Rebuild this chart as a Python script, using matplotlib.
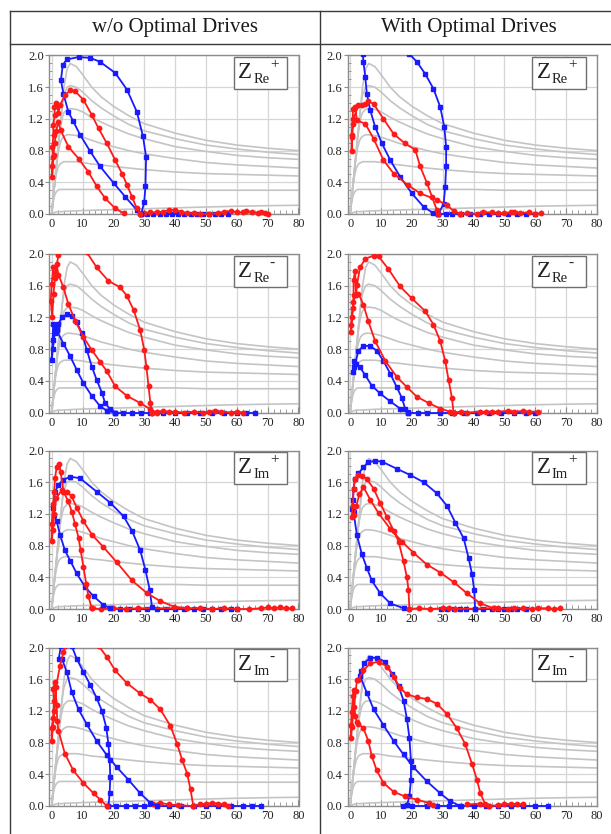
import matplotlib
matplotlib.use("Agg")
import matplotlib.pyplot as plt
from matplotlib.patches import Rectangle
from matplotlib.ticker import MultipleLocator, FormatStrFormatter

plt.rcParams['font.family'] = ['Liberation Serif', 'DejaVu Serif']

# ---------------------------------------------------------------- headers
col_titles = ["w/o Optimal Drives", "With Optimal Drives"]
label_subs = ["Re", "Re", "Im", "Im"]
label_sups = ["+", "-", "+", "-"]

# ---------------------------------------------------------------- DC I-V family (Vds, Ids)
iv_vds = [0, 0.5, 1, 1.5, 2, 2.5, 3, 3.5, 4, 5, 6, 8, 10, 13, 16, 20, 25, 30, 40, 50, 60, 70, 80]
iv_ids_1 = [0, 0.2, 0.4, 0.6, 0.8, 1.0, 1.2, 1.4, 1.6, 1.83, 1.9, 1.86, 1.76, 1.6, 1.48, 1.36, 1.24, 1.14, 1.02, 0.93, 0.87, 0.83, 0.80]
iv_ids_2 = [0, 0.2, 0.4, 0.6, 0.8, 1.0, 1.2, 1.38, 1.5, 1.6, 1.62, 1.6, 1.54, 1.43, 1.34, 1.24, 1.13, 1.05, 0.95, 0.87, 0.82, 0.78, 0.75]
iv_ids_3 = [0, 0.2, 0.4, 0.6, 0.8, 0.98, 1.12, 1.22, 1.28, 1.32, 1.33, 1.32, 1.29, 1.22, 1.16, 1.09, 1.01, 0.95, 0.85, 0.79, 0.74, 0.71, 0.69]
iv_ids_4 = [0, 0.2, 0.4, 0.58, 0.74, 0.85, 0.92, 0.96, 0.98, 1.0, 1.0, 0.99, 0.97, 0.93, 0.89, 0.85, 0.8, 0.76, 0.7, 0.65, 0.62, 0.6, 0.58]
iv_ids_5 = [0, 0.2, 0.38, 0.5, 0.58, 0.62, 0.64, 0.65, 0.66, 0.66, 0.66, 0.66, 0.65, 0.63, 0.62, 0.6, 0.58, 0.56, 0.53, 0.51, 0.5, 0.49, 0.48]
iv_ids_6 = [0, 0.15, 0.24, 0.28, 0.3, 0.31, 0.31, 0.31, 0.31, 0.31, 0.31, 0.31, 0.31, 0.31, 0.31, 0.31, 0.31, 0.31, 0.31, 0.3, 0.3, 0.3, 0.3]
iv_ids_7 = [0, 0.01, 0.02, 0.025, 0.03, 0.03, 0.03, 0.03, 0.032, 0.034, 0.036, 0.04, 0.043, 0.047, 0.05, 0.055, 0.06, 0.066, 0.077, 0.088, 0.098, 0.105, 0.11]
iv_family = [iv_ids_1, iv_ids_2, iv_ids_3, iv_ids_4, iv_ids_5, iv_ids_6, iv_ids_7]

# ---------------------------------------------------------------- dynamic load lines (Vds, Ids)
# ZRe+ without optimal drives
re_p_wo_red = [(23.3, 0.01), (20.6, 0.07), (17.3, 0.20), (14.6, 0.35), (11.9, 0.53), (8.7, 0.70), (5.4, 0.85),
               (2.9, 1.06), (2.1, 1.16), (1.5, 1.05), (1.0, 0.9), (0.6, 0.75), (0.2, 0.47), (0.0, 0.6), (0.4, 0.72),
               (0.2, 0.85), (0.6, 1.0), (0.5, 1.12), (1.0, 1.25), (0.9, 1.35), (1.3, 1.40), (1.7, 1.36), (2.2, 1.28),
               (2.8, 1.38), (4.3, 1.50), (6.0, 1.56), (7.6, 1.55), (10.3, 1.44), (13.0, 1.25), (15.2, 1.08),
               (17.9, 0.89), (20.6, 0.68), (22.8, 0.51), (24.4, 0.37), (26.0, 0.22), (27.6, 0.07), (28.7, 0.0)]
re_p_wo_red_tail = [(28.7, 0.0), (30, 0.01), (32, 0.02), (34, 0.02), (36, 0.03), (38, 0.05), (40, 0.05), (42, 0.03),
                    (44, 0.01), (46, 0.01), (48, 0.0), (51, 0.0), (54, 0.01), (56, 0.03), (58, 0.04), (60, 0.02),
                    (62, 0.02), (63, 0.04), (65, 0.02), (67, 0.01), (68, 0.03), (69, 0.01), (70, 0.0)]
re_p_wo_blue = [(29.0, 0.0), (30.0, 0.15), (30.4, 0.35), (30.6, 0.72), (29.6, 0.98), (27.6, 1.29), (24.4, 1.57),
                (20.6, 1.78), (15.7, 1.92), (12.5, 1.97), (8.7, 1.98), (4.9, 1.95), (3.6, 1.88), (3.0, 1.69),
                (3.8, 1.52), (5.4, 1.29), (7.0, 1.17), (9.2, 1.0), (12.5, 0.79), (15.7, 0.6), (20.1, 0.39),
                (23.8, 0.22), (27.6, 0.05), (29.0, 0.0)]
re_p_wo_blue_tail = [(29, 0.0), (31, 0.0), (33, 0.0), (35, 0.0), (37, 0.0), (39, 0.0), (41, 0.0), (43, 0.0),
                     (45, 0.0), (47, 0.0), (49, 0.0), (51, 0.0), (53, 0.0), (55, 0.0), (57, 0.0)]

# ZRe+ with optimal drives
re_p_w_red = [(35.7, 0.0), (33.5, 0.04), (31.4, 0.11), (28.1, 0.18), (22.7, 0.26), (18.9, 0.36), (14.1, 0.51),
              (10.8, 0.68), (7.6, 0.95), (4.9, 1.14), (2.2, 1.18), (1.6, 1.35), (0.9, 1.33), (0.8, 1.14),
              (0.5, 0.97), (0.5, 0.8), (0.7, 1.0), (1.0, 1.2), (2.7, 1.37), (3.8, 1.37), (4.9, 1.39), (5.9, 1.42),
              (7.6, 1.39), (10.8, 1.20), (14.1, 1.01), (17.8, 0.89), (21.1, 0.81), (22.7, 0.6), (24.9, 0.39),
              (26.5, 0.22), (28.1, 0.05), (28.6, 0.0)]
re_p_w_red_tail = [(35.7, 0.0), (38, 0.01), (41, 0.0), (43, 0.02), (46, 0.02), (48, 0.01), (50, 0.01), (52, 0.02),
                   (53, 0.03), (55, 0.01), (58, 0.02), (60, 0.0), (62, 0.01)]
re_p_w_blue = [(28.6, 0.0), (30.3, 0.13), (30.8, 0.34), (31.1, 0.6), (31.1, 0.85), (30.5, 1.10), (29.2, 1.35),
               (27.0, 1.58), (24.3, 1.77), (21.6, 1.92), (19.2, 2.02), (16, 2.3), (11, 2.45), (6.5, 2.3),
               (4.1, 2.02), (4.3, 1.92), (4.9, 1.73), (5.4, 1.52), (6.5, 1.31), (8.1, 1.10), (10.3, 0.89),
               (13.0, 0.68), (16.2, 0.47), (20.0, 0.26), (23.8, 0.09), (27.0, 0.01), (28.6, 0.0)]
re_p_w_blue_tail = [(28.6, 0.0), (31, 0.0), (33, 0.0), (36, 0.0), (39, 0.0), (42, 0.0), (45, 0.0), (48, 0.0),
                    (51, 0.0), (54, 0.0), (57, 0.0), (60, 0.0)]

# ZRe- without optimal drives
re_m_wo_red = [(34.1, 0.0), (32.0, 0.04), (28.7, 0.12), (24.4, 0.21), (20.6, 0.33), (17.9, 0.52), (15.7, 0.64),
               (13.0, 0.79), (10.3, 0.95), (7.6, 1.16), (5.4, 1.37), (3.8, 1.58), (2.2, 1.74), (1.6, 1.87),
               (1.1, 1.70), (0.5, 1.83), (0.0, 1.62), (-0.3, 1.41), (0.2, 1.2), (0.6, 1.5), (1.2, 1.75),
               (2.2, 1.99), (2.7, 2.05), (6.0, 2.6), (11.4, 2.02), (14.6, 1.83), (18.4, 1.66), (22.2, 1.58),
               (24.4, 1.47), (26.6, 1.29), (28.7, 1.04), (30.0, 0.79), (30.7, 0.58), (31.4, 0.33), (32.0, 0.12),
               (32.5, 0.0)]
re_m_wo_red_tail = [(32.5, 0.0), (34, 0.01), (36, 0.02), (38, 0.01), (40, 0.01), (43, 0.0), (46, 0.01), (49, 0.0),
                    (51, 0.01), (53, 0.02), (55, 0.01), (58, 0.0), (60, 0.01), (62, 0.0)]
re_m_wo_blue = [(20.6, 0.0), (19.0, 0.04), (17.3, 0.12), (16.3, 0.25), (14.6, 0.41), (13.0, 0.58), (11.4, 0.79),
                (9.8, 1.0), (8.1, 1.14), (6.5, 1.22), (4.9, 1.24), (3.3, 1.20), (2.2, 1.12), (1.6, 1.06),
                (1.1, 1.04), (0.5, 1.12), (0.3, 0.91), (0.0, 0.66), (0.4, 0.8), (1.0, 1.0), (1.6, 1.04),
                (3.8, 0.87), (6.0, 0.71), (8.1, 0.54), (10.3, 0.37), (13.0, 0.21), (15.7, 0.08), (17.9, 0.02),
                (20.6, 0.0)]
re_m_wo_blue_tail = [(20.6, 0.0), (23, 0.0), (26, 0.0), (29, 0.0), (32, 0.0), (36, 0.0), (40, 0.0), (44, 0.0),
                     (48, 0.0), (52, 0.0), (56, 0.0), (60, 0.0), (63, 0.0), (66, 0.0)]

# ZRe- with optimal drives
re_m_w_red = [(33.5, 0.0), (33.0, 0.18), (31.9, 0.41), (30.8, 0.65), (29.2, 0.90), (27.0, 1.11), (24.3, 1.28),
              (20.0, 1.44), (16.2, 1.59), (12.4, 1.81), (9.2, 1.97), (7.6, 1.98), (4.9, 1.94), (3.2, 1.83),
              (2.2, 1.61), (1.9, 1.48), (1.6, 1.79), (1.1, 1.67), (1.1, 1.48), (0.9, 1.32), (0.3, 1.11),
              (0.3, 1.01), (0.6, 1.2), (1.0, 1.4), (2.0, 1.5), (2.7, 1.50), (4.3, 1.36), (5.9, 1.15), (8.1, 0.90),
              (11.4, 0.65), (15.1, 0.45), (18.4, 0.32), (21.6, 0.20), (25.4, 0.12), (29.2, 0.05), (32.4, 0.01),
              (33.5, 0.0)]
re_m_w_red_tail = [(33.5, 0.0), (36, 0.01), (38, 0.0), (42, 0.01), (44, 0.01), (46, 0.01), (48, 0.01), (51, 0.02),
                   (53, 0.01), (56, 0.02), (58, 0.01), (61, 0.01)]
re_m_w_blue = [(18.9, 0.0), (17.8, 0.05), (16.8, 0.18), (15.1, 0.32), (13.0, 0.49), (10.8, 0.65), (8.6, 0.78),
               (6.5, 0.84), (4.3, 0.84), (2.7, 0.78), (1.6, 0.61), (1.1, 0.65), (0.9, 0.51), (1.3, 0.58),
               (1.9, 0.61), (3.2, 0.57), (4.9, 0.47), (7.0, 0.34), (9.7, 0.24), (13.0, 0.14), (16.2, 0.05),
               (18.9, 0.01)]
re_m_w_blue_tail = [(18.9, 0.0), (22, 0.0), (25, 0.0), (29, 0.0), (33, 0.0), (37, 0.0), (41, 0.0), (45, 0.0),
                    (49, 0.0), (53, 0.0), (57, 0.0), (60, 0.0)]

# ZIm+ without optimal drives
im_p_wo_red = [(13.0, 0.01), (11.9, 0.16), (11.2, 0.32), (10.3, 0.53), (9.4, 0.74), (8.7, 0.90), (7.6, 1.07),
               (6.5, 1.23), (5.4, 1.36), (3.8, 1.48), (2.9, 1.73), (2.5, 1.83), (1.6, 1.79), (1.1, 1.65),
               (0.8, 1.48), (0.5, 1.32), (0.0, 1.07), (0.0, 0.86), (0.4, 1.0), (0.8, 1.2), (1.5, 1.4), (3.3, 1.50),
               (4.9, 1.48), (6.5, 1.42), (8.1, 1.28), (10.3, 1.11), (13.0, 0.94), (16.8, 0.78), (21.1, 0.59),
               (26.0, 0.36), (30.9, 0.20), (35.2, 0.10), (39.6, 0.03), (43.9, 0.01)]
im_p_wo_red_tail = [(13.0, 0.01), (16, 0.0), (20, 0.01), (24, 0.0), (28, 0.01), (43.9, 0.01), (48, 0.01),
                    (52, 0.0), (56, 0.01), (60, 0.0), (64, 0.0), (68, 0.01), (70, 0.02), (72, 0.01), (74, 0.02),
                    (76, 0.01), (78, 0.01)]
im_p_wo_blue = [(32.5, 0.03), (31.8, 0.24), (30.4, 0.49), (28.7, 0.74), (26.0, 0.99), (23.3, 1.17), (19.0, 1.34),
                (14.6, 1.48), (9.2, 1.65), (6.0, 1.67), (3.8, 1.63), (2.2, 1.57), (1.1, 1.48), (0.5, 1.28),
                (0.9, 1.18), (1.6, 1.11), (2.7, 0.94), (4.3, 0.74), (6.0, 0.61), (8.1, 0.45), (10.8, 0.28),
                (13.6, 0.16), (16.8, 0.05), (19.0, 0.01)]
im_p_wo_blue_tail = [(19.0, 0.01), (22, 0.0), (25, 0.0), (28, 0.0), (31, 0.0), (34, 0.0), (37, 0.0), (40, 0.0),
                     (43, 0.0), (46, 0.0), (49, 0.0), (52, 0.0), (55, 0.0), (58, 0.0), (60, 0.0)]

# ZIm+ with optimal drives
im_p_w_red = [(46.5, 0.01), (42.2, 0.07), (37.8, 0.20), (33.5, 0.34), (29.2, 0.46), (24.9, 0.56), (20.5, 0.71),
              (16.8, 0.85), (13.0, 1.01), (9.2, 1.21), (6.5, 1.38), (4.3, 1.54), (3.0, 1.45), (2.0, 1.3),
              (1.2, 1.18), (0.5, 1.16), (0.9, 1.30), (1.1, 1.52), (1.6, 1.64), (2.7, 1.69), (3.8, 1.68),
              (5.4, 1.64), (7.6, 1.52), (9.7, 1.34), (11.9, 1.16), (14.1, 0.99), (15.7, 0.85), (17.3, 0.60),
              (18.4, 0.40), (18.9, 0.24), (19.2, 0.0)]
im_p_w_red_tail = [(19.2, 0.0), (22.2, 0.01), (26, 0.0), (30, 0.01), (32, 0.01), (34, 0.0), (46.5, 0.01),
                   (48, 0.01), (51, 0.0), (53, 0.01), (56, 0.01), (59, 0.0), (61, 0.01), (64, 0.01), (66, 0.0),
                   (68, 0.01)]
im_p_w_blue = [(40.5, 0.0), (40.2, 0.24), (39.5, 0.44), (38.4, 0.64), (36.8, 0.89), (34.1, 1.09), (31.4, 1.30),
               (28.1, 1.46), (23.8, 1.60), (19.5, 1.69), (15.1, 1.77), (10.3, 1.86), (8.1, 1.87), (5.9, 1.85),
               (4.3, 1.79), (2.7, 1.71), (1.6, 1.64), (1.1, 1.52), (0.9, 1.38), (0.5, 1.26), (1.1, 1.22),
               (2.2, 0.93), (3.8, 0.69), (5.4, 0.52), (7.0, 0.36), (9.7, 0.20), (13.0, 0.07), (17.3, 0.01)]
im_p_w_blue_tail = [(29.5, 0.0), (31.5, 0.0), (33.5, 0.0), (35.5, 0.0), (37.5, 0.0), (40.5, 0.0), (43, 0.0),
                    (46, 0.0), (48, 0.0), (50, 0.0), (52, 0.0), (54, 0.0), (57, 0.0)]

# ZIm- without optimal drives
im_m_wo_red = [(17.9, 0.0), (15.7, 0.08), (13.6, 0.16), (10.3, 0.29), (7.0, 0.45), (4.3, 0.66), (2.2, 0.95),
               (1.8, 1.07), (1.6, 1.28), (1.1, 1.57), (0.5, 1.48), (0.8, 1.32), (0.5, 1.11), (0.0, 0.99),
               (0.0, 0.82), (0.4, 1.0), (0.9, 1.2), (1.4, 1.5), (2.7, 1.77), (3.8, 1.94), (4.3, 2.02),
               (8.0, 2.6), (15.2, 2.02), (17.9, 1.88), (20.6, 1.71), (24.4, 1.55), (28.7, 1.42), (32.0, 1.34),
               (35.2, 1.22), (38.5, 1.01), (40.7, 0.78), (42.3, 0.58), (43.9, 0.41), (45.0, 0.21), (45.9, 0.0)]
im_m_wo_red_tail = [(33, 0.02), (35, 0.04), (38, 0.02), (41, 0.01), (45.9, 0.0), (48, 0.02), (50, 0.03),
                    (52, 0.04), (54, 0.03), (56, 0.02), (57, 0.0)]
im_m_wo_blue = [(18.4, 0.0), (18.8, 0.16), (19.0, 0.37), (18.8, 0.58), (18.4, 0.78), (17.7, 0.99), (16.3, 1.20),
                (14.6, 1.36), (12.5, 1.53), (10.3, 1.69), (8.1, 1.86), (6.5, 2.02), (4.5, 2.3), (3.0, 2.02),
                (2.3, 1.86), (3.3, 1.86), (4.9, 1.69), (6.5, 1.44), (8.7, 1.22), (11.4, 1.03), (14.6, 0.82),
                (17.9, 0.64), (21.1, 0.49), (24.9, 0.33), (28.7, 0.16), (32.0, 0.04), (34.1, 0.0)]
im_m_wo_blue_tail = [(18.4, 0.0), (21, 0.0), (24, 0.0), (27, 0.0), (30, 0.0), (34, 0.0), (38, 0.0), (42, 0.0),
                     (46, 0.0), (50, 0.0), (54, 0.0), (58, 0.0), (62, 0.0), (65, 0.0), (68, 0.0)]

# ZIm- with optimal drives
im_m_w_red = [(27.0, 0.01), (25.4, 0.04), (21.6, 0.08), (17.8, 0.12), (14.1, 0.18), (10.8, 0.29), (8.6, 0.45),
              (7.0, 0.63), (5.9, 0.82), (4.3, 0.98), (2.7, 1.04), (2.2, 1.06), (1.6, 1.14), (1.1, 1.47),
              (0.9, 1.39), (0.5, 1.18), (0.3, 1.02), (0.3, 0.86), (0.6, 1.0), (1.2, 1.25), (1.8, 1.45),
              (2.2, 1.59), (2.7, 1.59), (4.3, 1.71), (6.5, 1.80), (9.2, 1.82), (11.9, 1.76), (14.1, 1.63),
              (16.2, 1.49), (18.4, 1.41), (21.6, 1.37), (24.9, 1.35), (28.1, 1.29), (31.4, 1.16), (34.6, 0.98),
              (37.3, 0.78), (39.5, 0.53), (41.1, 0.33), (42.2, 0.16), (43.8, 0.02), (45.0, 0.0)]
im_m_w_red_tail = [(38, 0.02), (42, 0.03), (45, 0.0), (48, 0.01), (50, 0.03), (52, 0.02), (54, 0.03), (56, 0.02)]
im_m_w_blue = [(18.4, 0.01), (19.2, 0.12), (19.7, 0.33), (19.7, 0.57), (19.2, 0.86), (18.4, 1.10), (17.3, 1.33),
               (15.7, 1.51), (13.5, 1.67), (11.4, 1.82), (8.6, 1.87), (6.5, 1.87), (4.5, 1.80), (3.6, 1.70),
               (3.2, 1.64), (5.4, 1.43), (7.6, 1.22), (10.8, 1.02), (14.1, 0.82), (17.3, 0.65), (20.5, 0.49),
               (24.9, 0.31), (29.2, 0.16), (32.4, 0.06), (35.7, 0.0)]
im_m_w_blue_tail = [(17, 0.0), (18.4, 0.01), (20, 0.0), (25, 0.0), (28, 0.0), (32, 0.0), (36, 0.0), (40, 0.0),
                    (44, 0.0), (48, 0.0), (52, 0.0), (56, 0.0), (60, 0.0), (64, 0.0)]

panel_curves = [
    [(re_p_wo_red, re_p_wo_red_tail, re_p_wo_blue, re_p_wo_blue_tail),
     (re_p_w_red, re_p_w_red_tail, re_p_w_blue, re_p_w_blue_tail)],
    [(re_m_wo_red, re_m_wo_red_tail, re_m_wo_blue, re_m_wo_blue_tail),
     (re_m_w_red, re_m_w_red_tail, re_m_w_blue, re_m_w_blue_tail)],
    [(im_p_wo_red, im_p_wo_red_tail, im_p_wo_blue, im_p_wo_blue_tail),
     (im_p_w_red, im_p_w_red_tail, im_p_w_blue, im_p_w_blue_tail)],
    [(im_m_wo_red, im_m_wo_red_tail, im_m_wo_blue, im_m_wo_blue_tail),
     (im_m_w_red, im_m_w_red_tail, im_m_w_blue, im_m_w_blue_tail)],
]

# ---------------------------------------------------------------- layout (pixels)
W, H = 611, 834
fig = plt.figure(figsize=(W / 100, H / 100), dpi=100)
fig.patch.set_facecolor('white')

col_left = [49.5, 348.0]
ax_w = 249.0
row_top = [55.5, 254.0, 450.5, 647.5]
ax_h = 158.5

RED = '#ff1a1a'
BLUE = '#1a1aff'
GREY_IV = '#c4c4c4'
GRID = '#d6d6d6'
SPINE = '#8c8c8c'
TXT = '#222222'


def draw_path(ax, pts, color, marker, ms):
    xs = [p[0] for p in pts]
    ys = [p[1] for p in pts]
    ln, = ax.plot(xs, ys, color=color, lw=1.3, marker=marker, ms=ms, mec=color, mfc=color, zorder=4)
    ln.set_clip_path(Rectangle((-0.7, -0.2), 80.7, 2.2, transform=ax.transData))


for r in range(4):
    for c in range(2):
        left = col_left[c] / W
        bottom = 1 - (row_top[r] + ax_h) / H
        ax = fig.add_axes([left, bottom, ax_w / W, ax_h / H])
        ax.set_xlim(-0.7, 80)
        ax.set_ylim(0, 2.0)
        ax.xaxis.set_major_locator(MultipleLocator(10))
        ax.xaxis.set_minor_locator(MultipleLocator(2))
        ax.yaxis.set_major_locator(MultipleLocator(0.4))
        ax.yaxis.set_minor_locator(MultipleLocator(0.1))
        ax.yaxis.set_major_formatter(FormatStrFormatter('%.1f'))
        ax.grid(True, which='major', color=GRID, lw=0.9, zorder=0)
        ax.set_axisbelow(True)
        for s in ax.spines.values():
            s.set_color(SPINE)
            s.set_linewidth(1.0)
        ax.tick_params(axis='x', which='major', direction='in', length=4, color=SPINE, labelsize=9,
                       labelcolor=TXT, pad=3)
        ax.tick_params(axis='x', which='minor', direction='in', length=3, color=SPINE)
        ax.tick_params(axis='y', which='major', direction='out', length=3, color=SPINE, labelsize=9,
                       labelcolor=TXT, pad=1)
        ax.tick_params(axis='y', which='minor', direction='in', length=2, color=SPINE)

        for ids in iv_family:
            ax.plot(iv_vds, ids, color=GREY_IV, lw=1.2, zorder=1)

        red, red_tail, blue, blue_tail = panel_curves[r][c]
        draw_path(ax, blue_tail, BLUE, 's', 2.3)
        draw_path(ax, red_tail, RED, 'o', 3.2)
        draw_path(ax, blue, BLUE, 's', 2.3)
        draw_path(ax, red, RED, 'o', 3.2)

        # impedance label box
        ax.add_patch(Rectangle((0.74, 0.79), 0.215, 0.20, transform=ax.transAxes, facecolor='white',
                               edgecolor='#707070', lw=1.0, zorder=6))
        ax.text(0.758, 0.89, "Z", transform=ax.transAxes, ha='left', va='center',
                fontsize=16.5, color=TXT, zorder=7)
        ax.text(0.818, 0.848, label_subs[r], transform=ax.transAxes, ha='left', va='center',
                fontsize=10.5, color=TXT, zorder=7)
        ax.text(0.885, 0.94, label_sups[r], transform=ax.transAxes, ha='left', va='center',
                fontsize=11, color=TXT, zorder=7)

# ---------------------------------------------------------------- table frame and headers
frame = fig.add_axes([0, 0, 1, 1], zorder=-1)
frame.set_xlim(0, W)
frame.set_ylim(H, 0)
frame.axis('off')
line_kw = dict(color='#3a3a3a', lw=1.0)
frame.plot([10, W], [10.5, 10.5], **line_kw)
frame.plot([10, W], [43.5, 43.5], **line_kw)
frame.plot([10, 10], [10.5, H], **line_kw)
frame.plot([320, 320], [10.5, H], **line_kw)
frame.text(175, 27.5, col_titles[0], ha='center', va='center', fontsize=15, color='#1a1a1a')
frame.text(469, 27.5, col_titles[1], ha='center', va='center', fontsize=15, color='#1a1a1a')

fig.savefig('out.png', dpi=100)
